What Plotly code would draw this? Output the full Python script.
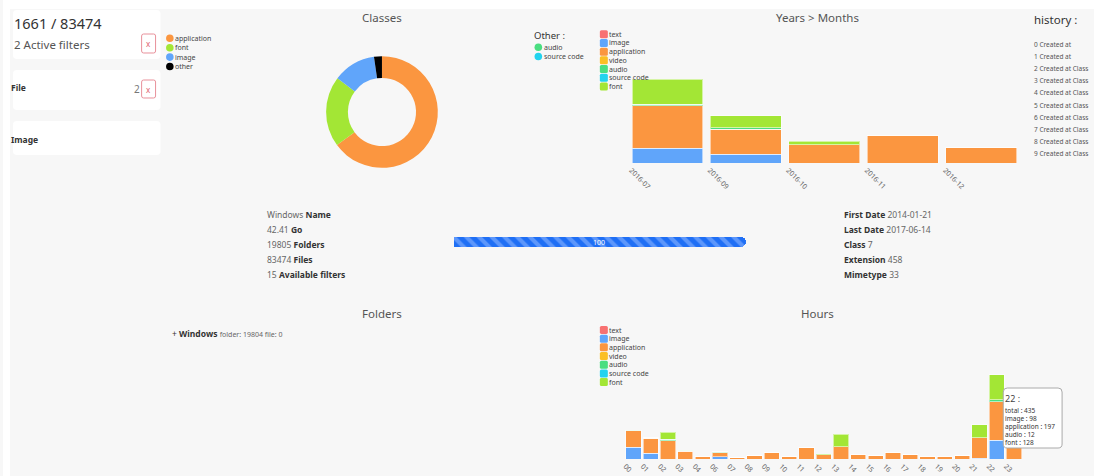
import plotly.graph_objects as go

W, H = 1094, 476
FONT = "Noto Sans"

# ---------------- data ----------------
classes = ["text", "image", "application", "video", "audio", "source code", "font"]
class_colors = ["#f87171", "#60a5fa", "#fb9640", "#fbbf24", "#4ade80", "#22d3ee", "#a3e635"]

pie_labels = ["application", "font", "image", "other"]
pie_values = [1078, 339, 206, 38]
pie_colors = ["#fb9640", "#a3e635", "#60a5fa", "#000000"]
other_labels = ["audio", "source code"]
other_colors = ["#4ade80", "#22d3ee"]

months = ["2016-07", "2016-09", "2016-10", "2016-11", "2016-12"]
m_text = [0, 0, 0, 0, 0]
m_image = [127, 74, 0, 0, 0]
m_application = [356, 212, 155, 235, 133]
m_video = [0, 0, 0, 0, 0]
m_audio = [14, 14, 0, 0, 0]
m_source = [0, 0, 0, 0, 0]
m_font = [212, 99, 31, 0, 0]

hours = ["00", "01", "02", "03", "04", "06", "07", "08", "09", "10", "11", "12",
         "13", "14", "15", "16", "17", "18", "19", "20", "21", "22", "23"]
h_text = [0] * 23
h_image = [60, 29, 0, 0, 0, 12, 0, 0, 0, 0, 0, 0, 0, 0, 0, 0, 0, 0, 0, 0, 5, 98, 0]
h_application = [86, 77, 93, 41, 14, 21, 7, 17, 36, 15, 57, 21, 64, 24, 17, 34, 21, 15, 15, 17, 105, 197, 122]
h_video = [0] * 23
h_audio = [2, 0, 10, 4, 0, 2, 0, 0, 0, 0, 0, 0, 0, 0, 0, 0, 0, 0, 0, 0, 0, 12, 0]
h_source = [0, 3, 0, 0, 0, 2, 0, 0, 0, 0, 0, 0, 0, 0, 0, 0, 0, 0, 0, 0, 0, 0, 0]
h_font = [0, 0, 34, 0, 0, 0, 0, 0, 0, 0, 0, 3, 65, 0, 0, 0, 0, 0, 0, 0, 67, 128, 0]

months_series = [m_text, m_image, m_application, m_video, m_audio, m_source, m_font]
hours_series = [h_text, h_image, h_application, h_video, h_audio, h_source, h_font]

progress_value = [100]

info_left = [("Windows", "Name"), ("42.41", "Go"), ("19805", "Folders"),
             ("83474", "Files"), ("15", "Available filters")]
info_right = [("First Date", "2014-01-21"), ("Last Date", "2017-06-14"), ("Class", "7"),
              ("Extension", "458"), ("Mimetype", "33")]
history_items = ["0 Created at", "1 Created at"] + [f"{i} Created at Class" for i in range(2, 10)]
tooltip_lines = ["total : 435", "image : 98", "application : 197", "audio : 12", "font : 128"]


# ---------------- helpers ----------------
def X(p):
    return p / W


def Y(p):
    return 1 - p / H


def rrect_path(x0, y0, x1, y1, r):
    def P(x, y):
        return f"{X(x):.5f},{Y(y):.5f}"
    return (f"M {P(x0 + r, y0)} L {P(x1 - r, y0)} Q {P(x1, y0)} {P(x1, y0 + r)} "
            f"L {P(x1, y1 - r)} Q {P(x1, y1)} {P(x1 - r, y1)} "
            f"L {P(x0 + r, y1)} Q {P(x0, y1)} {P(x0, y1 - r)} "
            f"L {P(x0, y0 + r)} Q {P(x0, y0)} {P(x0 + r, y0)} Z")


shapes = []
annotations = []


def rect(x0, y0, x1, y1, fill, line=None, r=0, layer="below", width=1):
    if r > 0:
        shapes.append(dict(type="path", xref="paper", yref="paper", path=rrect_path(x0, y0, x1, y1, r),
                           fillcolor=fill, line=dict(color=line or fill, width=width if line else 0),
                           layer=layer))
    else:
        shapes.append(dict(type="rect", xref="paper", yref="paper", x0=X(x0), x1=X(x1), y0=Y(y1), y1=Y(y0),
                           fillcolor=fill, line=dict(color=line or fill, width=width if line else 0),
                           layer=layer))


def circle(cx, cy, r, fill, layer="above"):
    shapes.append(dict(type="circle", xref="paper", yref="paper", x0=X(cx - r), x1=X(cx + r),
                       y0=Y(cy + r), y1=Y(cy - r), fillcolor=fill, line=dict(width=0), layer=layer))


def text(x, y, s, size=9, color="#444", anchor="left", bold=False):
    if bold:
        s = f"<b>{s}</b>"
    shift = {"left": -3, "right": 3, "center": 0}[anchor]
    annotations.append(dict(x=X(x), y=Y(y), xref="paper", yref="paper", text=s, showarrow=False,
                            xanchor=anchor, yanchor="middle", xshift=shift,
                            font=dict(family=FONT, size=size, color=color)))


# ---------------- background ----------------
rect(0, 0, W, 9, "#ffffff")
rect(0, 0, 7, H, "#ffffff")

# left cards
rect(10, 10, 158, 59, "#ffffff", r=4)
rect(10, 70, 158, 110, "#ffffff", r=4)
rect(10, 121, 158, 155, "#ffffff", r=4)
text(12, 23, "1661 / 83474", size=14.5, color="#333")
text(12, 44, "2 Active filters", size=11.5, color="#555")
rect(139, 34, 153, 53, "#ffffff", line="#e8909a", r=2, layer="above")
text(146, 43, "x", size=8, color="#e0606d", anchor="center")
text(9, 87, "File", size=8.5, color="#333", bold=True)
text(136, 89, "2", size=10, color="#777", anchor="right")
rect(139, 80, 153, 98, "#ffffff", line="#e8909a", r=2, layer="above")
text(146, 89, "x", size=8, color="#e0606d", anchor="center")
text(9, 139, "Image", size=8.5, color="#333", bold=True)

# titles
text(380, 18, "Classes", size=11.5, color="#555", anchor="center")
text(817, 18, "Years &gt; Months", size=11.5, color="#555", anchor="center")
text(380, 313, "Folders", size=11.5, color="#555", anchor="center")
text(817, 313, "Hours", size=11.5, color="#555", anchor="center")

# pie legend
for i, (lab, col) in enumerate(zip(pie_labels, pie_colors)):
    yy = 38.3 + i * 9.4
    circle(167.3, yy, 3.8, col)
    text(173.5, yy, lab, size=7, color="#444")

# other legend
text(533, 36, "Other :", size=9.5, color="#333")
for i, (lab, col) in enumerate(zip(other_labels, other_colors)):
    yy = 47.3 + i * 9.2
    circle(536.8, yy, 3.8, col)
    text(543, yy, lab, size=7, color="#444")

# bar legends
for y_start in (34.3, 330.0):
    for i, (lab, col) in enumerate(zip(classes, class_colors)):
        yy = y_start + i * 8.68
        rect(598.5, yy - 4, 606.5, yy + 4, col, r=1.5, layer="below")
        text(609, yy, lab, size=7, color="#444")

# info blocks
for i, (v, k) in enumerate(info_left):
    text(266, 215 + i * 14.8, f"<span style='color:#666'>{v}</span> <b>{k}</b>", size=8.5, color="#333")
for i, (k, v) in enumerate(info_right):
    text(844, 215 + i * 14.8, f"<b>{k}</b> <span style='color:#666'>{v}</span>", size=8.5, color="#333")

# progress label
text(598, 242, "100", size=7, color="#ffffff", anchor="center")

# folders
text(170, 333, "+ <b>Windows</b> <span style='font-size:7px;color:#666'>folder: 19804 file: 0</span>",
     size=8.5, color="#333")

# history
text(1035, 20, "history :", size=11.5, color="#333")
for i, s in enumerate(history_items):
    text(1035, 44.5 + i * 12.1, s, size=6.5, color="#555")

# tooltip
rect(1003, 388, 1062, 448, "#ffffff", line="#aaaaaa", r=4, layer="above")
text(1006, 398, "22 :", size=9, color="#444")
for i, s in enumerate(tooltip_lines):
    text(1006, 410 + i * 8.2, s, size=6.5, color="#333")

# ---------------- figure ----------------
fig = go.Figure()

fig.add_trace(go.Pie(labels=pie_labels, values=pie_values, hole=0.61, sort=False, direction="clockwise",
                     rotation=0, textinfo="none", marker=dict(colors=pie_colors, line=dict(width=0)),
                     domain=dict(x=[X(324), X(436)], y=[Y(168), Y(56)]), showlegend=False))

for name, col, vals in zip(classes, class_colors, months_series):
    fig.add_trace(go.Bar(x=months, y=vals, name=name,
                         marker=dict(color=col, line=dict(color="rgba(255,255,255,0.55)", width=1)),
                         width=0.9, xaxis="x", yaxis="y", showlegend=False))

for name, col, vals in zip(classes, class_colors, hours_series):
    fig.add_trace(go.Bar(x=hours, y=vals, name=name,
                         marker=dict(color=col, line=dict(color="rgba(255,255,255,0.55)", width=1)),
                         width=0.88, xaxis="x2", yaxis="y2", showlegend=False))

fig.add_trace(go.Bar(x=progress_value, y=["p"], orientation="h", width=1,
                     marker=dict(color="#1f6ff5", cornerradius=5, line=dict(width=0),
                                 pattern=dict(shape="\\", bgcolor="#1f6ff5", fgcolor="#5d97fb",
                                              size=9, solidity=0.45, fillmode="replace")),
                     xaxis="x3", yaxis="y3", showlegend=False))

axis_common = dict(showgrid=False, zeroline=False, showline=False, ticks="")
fig.update_layout(
    width=W, height=H, autosize=False,
    margin=dict(l=0, r=0, t=0, b=0),
    paper_bgcolor="#f7f7f7", plot_bgcolor="rgba(0,0,0,0)",
    barmode="stack", showlegend=False, hovermode=False,
    font=dict(family=FONT),
    xaxis=dict(domain=[X(626.8), X(1020.3)], anchor="y", type="category", tickangle=45,
               tickfont=dict(family=FONT, size=7, color="#666"), ticklabelshift=-36, ticklabelstandoff=1,
               **axis_common),
    yaxis=dict(domain=[Y(163), Y(30)], anchor="x", range=[0, 1126.5], showticklabels=False, **axis_common),
    xaxis2=dict(domain=[X(623.5), X(1022.5)], anchor="y2", type="category", tickangle=45,
                tickfont=dict(family=FONT, size=7, color="#666"), ticklabelshift=-8, ticklabelstandoff=1,
                **axis_common),
    yaxis2=dict(domain=[Y(459), Y(330)], anchor="x2", range=[0, 665.6], showticklabels=False, **axis_common),
    xaxis3=dict(domain=[X(452), X(745)], anchor="y3", range=[0, 100], showticklabels=False, **axis_common),
    yaxis3=dict(domain=[Y(247), Y(237)], anchor="x3", range=[-0.5, 0.5], showticklabels=False, **axis_common),
    shapes=shapes,
    annotations=annotations,
)

fig.write_html("out.html", config={"displayModeBar": False},
               post_script="document.body.style.margin='0';document.body.style.overflow='hidden';")
